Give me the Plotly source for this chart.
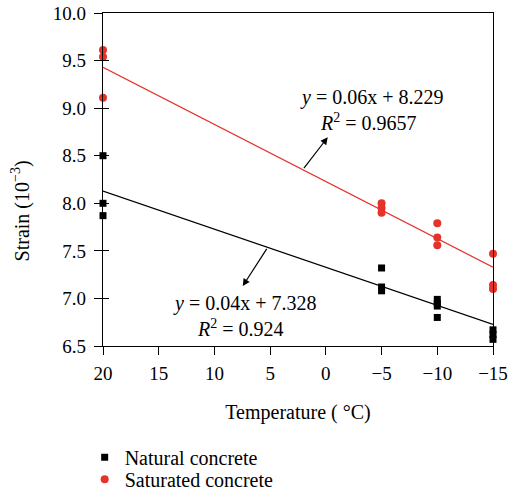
import plotly.graph_objects as go

# Data
nat_x = [20, 20, 20, -5, -5, -5, -10, -10, -10, -10, -15, -15, -15]
nat_y = [8.50, 8.00, 7.87, 7.32, 7.12, 7.08, 6.99, 6.95, 6.92, 6.80, 6.67, 6.62, 6.57]
sat_x = [20, 20, 20, -5, -5, -5, -10, -10, -10, -15, -15, -15]
sat_y = [9.61, 9.54, 9.11, 8.00, 7.95, 7.90, 7.79, 7.64, 7.56, 7.47, 7.14, 7.10]

fit_x = [20, -15]
nat_slope, nat_int = 0.04, 7.328
sat_slope, sat_int = 0.06, 8.229

x_ticks = [20, 15, 10, 5, 0, -5, -10, -15]
y_ticks = [6.5, 7.0, 7.5, 8.0, 8.5, 9.0, 9.5, 10.0]

RED = "#e5322a"
FONT = "Liberation Serif"
FS = 20

fig = go.Figure()
fig.add_trace(go.Scatter(x=fit_x, y=[nat_slope * v + nat_int for v in fit_x], mode="lines",
                         line=dict(color="black", width=1.2), showlegend=False, hoverinfo="skip"))
fig.add_trace(go.Scatter(x=fit_x, y=[sat_slope * v + sat_int for v in fit_x], mode="lines",
                         line=dict(color=RED, width=1.2), showlegend=False, hoverinfo="skip"))
# invisible trace so the inner-tick overlay axis is drawn
fig.add_trace(go.Scatter(x=fit_x, y=[sat_slope * v + sat_int for v in fit_x], mode="lines",
                         line=dict(width=0), opacity=0, yaxis="y2", showlegend=False,
                         hoverinfo="skip"))
fig.add_trace(go.Scatter(x=nat_x, y=nat_y, mode="markers", name="Natural concrete",
                         marker=dict(symbol="square", size=7, color="black"), cliponaxis=False,
                         legend="legend"))
fig.add_trace(go.Scatter(x=sat_x, y=sat_y, mode="markers", name="Saturated concrete",
                         marker=dict(symbol="circle", size=8, color=RED), cliponaxis=False,
                         legend="legend2"))

ann_font = dict(family=FONT, size=FS, color="black")
annotations = [
    dict(x=-4.1, y=9.116, text="<i>y</i> = 0.06x + 8.229", showarrow=False, font=ann_font),
    dict(x=-3.8, y=8.85, text="<i>R</i><sup>2</sup> = 0.9657", showarrow=False, font=ann_font),
    dict(x=7.31, y=6.95, text="<i>y</i> = 0.04x + 7.328", showarrow=False, font=ann_font),
    dict(x=7.64, y=6.69, text="<i>R</i><sup>2</sup> = 0.924", showarrow=False, font=ann_font),
    # arrows: head near text, tail on fit line
    dict(x=-0.17, y=8.694, ax=2.07, ay=sat_slope * 2.07 + sat_int, axref="x", ayref="y",
         xref="x", yref="y", text="", showarrow=True, arrowhead=2, arrowsize=1.2,
         arrowwidth=1.2, arrowcolor="black"),
    dict(x=7.46, y=7.13, ax=5.22, ay=nat_slope * 5.22 + nat_int, axref="x", ayref="y",
         xref="x", yref="y", text="", showarrow=True, arrowhead=2, arrowsize=1.2,
         arrowwidth=1.2, arrowcolor="black"),
    dict(x=-0.212, y=0.405, xref="paper", yref="paper", xanchor="center", yanchor="middle",
         text="Strain (10<sup>−3</sup>)", textangle=-90, showarrow=False, font=ann_font),
]

leg_common = dict(xanchor="left", yanchor="middle", itemwidth=30,
                  font=dict(family=FONT, size=FS), bgcolor="rgba(0,0,0,0)")

fig.update_layout(
    width=508, height=493,
    margin=dict(l=103, r=15, t=13, b=147, autoexpand=False),
    plot_bgcolor="white", paper_bgcolor="white",
    font=dict(family=FONT, size=FS, color="black"),
    annotations=annotations,
    legend=dict(x=-0.047, y=-0.334, **leg_common),
    legend2=dict(x=-0.047, y=-0.400, **leg_common),
    xaxis=dict(range=[20, -15], tickvals=x_ticks, ticks="outside", ticklen=8, tickcolor="black",
               tickfont=dict(family=FONT, size=19), ticklabelstandoff=2,
               showline=True, linecolor="black", linewidth=1.2, mirror=True, showgrid=False,
               zeroline=False,
               title=dict(text="Temperature ( °C)", font=dict(family=FONT, size=FS), standoff=22)),
    yaxis=dict(range=[6.5, 10.0], tickvals=y_ticks, tickformat=".1f", ticks="outside", ticklen=8,
               tickcolor="black", tickfont=dict(family=FONT, size=19), ticklabelstandoff=4,
               showline=True, linecolor="black", linewidth=1.2, mirror=True,
               showgrid=False, zeroline=False),
    yaxis2=dict(range=[6.5, 10.0], tickvals=y_ticks, ticks="inside", ticklen=6, tickcolor="black",
                overlaying="y", side="left", showticklabels=False, showgrid=False,
                zeroline=False, showline=False),
)

fig.write_html("out.html", config={"displayModeBar": False},
               post_script="document.body.style.margin='0';document.body.style.overflow='hidden';")
